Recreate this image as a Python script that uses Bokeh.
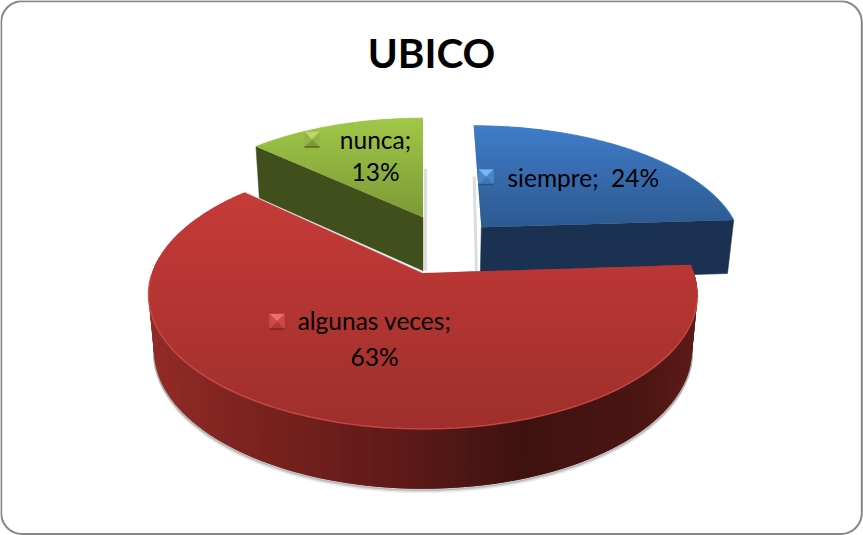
import numpy as np
from bokeh.plotting import figure
from bokeh.models import Range1d
from bokeh.core.properties import value
from bokeh.embed import file_html
from bokeh.resources import INLINE

# ---- data
title_text = "UBICO"
categories = ["siempre", "algunas veces", "nunca"]
percents = [24, 63, 13]

# ---- styles / geometry of the 3D projection
W, H = 863, 535
CX, CY, A, B, K = 422.5, 272.5, 271.0, 131.0, 0.16
explode = [(0.228, 0.37), (0.0, 0.0), (0.0, 0.457)]
top_stops = [("#3f7cc8", "#2d5990"), ("#c63b38", "#9e2f2c"), ("#9fc748", "#7b9936")]
cut_color = ["#1a3151", "#5a1b18", "#404f1c"]
key_colors = [("#78b6f2", "#4a88c8", "#3f78b4"), ("#f0706a", "#cf4a45", "#b03a36"), ("#bcd86a", "#93b346", "#7d9a38")]
key_edge = ["#2a527f", "#7f2422", "#566b24"]


def project(u, v):
    w = 1 + K * v
    return CX + A * u / w, CY - B * v / w


def lower(x, y):
    return CX + 0.98 * (x - CX), 1.03 * y + 47.0


def hex2rgb(c):
    return np.array([int(c[i:i + 2], 16) for i in (1, 3, 5)], float)


def mix(c0, c1, t):
    r = hex2rgb(c0) * (1 - t) + hex2rgb(c1) * t
    return "#%02x%02x%02x" % tuple(int(round(q)) for q in r)


def clip(poly, yc, keep_below):
    out = []
    n = len(poly)
    for i in range(n):
        p, q = poly[i], poly[(i + 1) % n]
        ip = (p[1] >= yc) if keep_below else (p[1] <= yc)
        iq = (q[1] >= yc) if keep_below else (q[1] <= yc)
        if ip:
            out.append(p)
        if ip != iq:
            t = (yc - p[1]) / (q[1] - p[1])
            out.append((p[0] + t * (q[0] - p[0]), yc))
    return out


def sector(i, a0, a1, n=120):
    th = np.radians(np.linspace(a0, a1, n))
    ox, oy = explode[i]
    return project(ox + np.sin(th), oy + np.cos(th)), project(ox, oy)


p = figure(width=W, height=H, x_range=Range1d(0, W), y_range=Range1d(H, 0),
           output_backend="svg", toolbar_location=None, min_border=0,
           x_axis_type=None, y_axis_type=None, outline_line_color=None,
           background_fill_color="white", border_fill_color="white")
p.grid.visible = False

# rounded frame
r = 21
ang = np.radians(np.linspace(0, 90, 14))
L, T, RR, BB = 0.7, 0.7, 861.3, 533.5
fx = np.concatenate([L + r - r * np.cos(ang), RR - r + r * np.sin(ang), RR - r + r * np.cos(ang), L + r - r * np.sin(ang), [L]])
fy = np.concatenate([T + r - r * np.sin(ang), T + r - r * np.cos(ang), BB - r + r * np.sin(ang), BB - r + r * np.cos(ang), [T + r]])
p.line(fx, fy, line_color="#868686", line_width=2)

# sector limits from values, clockwise from twelve o'clock
edges = np.concatenate([[0], np.cumsum(percents)]) * 3.6

order = [2, 0, 1]  # back slices first
for i in order:
    a0, a1 = edges[i], edges[i + 1]
    (ax, ay), (ox, oy) = sector(i, a0, a1)
    # soft shadows
    if i != 1:
        idx = 0 if i == 0 else -1
        sx, sy = lower(ax[idx], ay[idx])
        lx, ly = lower(ox, oy)
        d0, d1 = (2.5, 2.5) if i == 2 else (1.5, -3.5)
        p.line([sx + d0, lx + d1], [sy, ly], line_color="#777777", line_width=3, line_alpha=0.25)
    else:
        th = np.linspace(a0, a1, len(ax))
        m = (th > 95) & (th < 272)
        bx, by = lower(ax[m], ay[m])
        for off, al in [(1, 0.3), (2, 0.2), (3.5, 0.1)]:
            p.line(bx, by + off, line_color="#555555", line_width=2, line_alpha=al)

    # cut face seen by the viewer
    cut_idx = 0 if i == 2 else (-1 if i == 0 else None)
    if cut_idx is not None:
        cx_, cy_ = ax[cut_idx], ay[cut_idx]
        c2x, c2y = lower(cx_, cy_)
        a2x, a2y = lower(ox, oy)
        p.patch([ox, cx_, c2x, a2x], [oy, cy_, c2y, a2y], fill_color=cut_color[i], line_color=cut_color[i], line_width=0.5)

    # red rim, shaded along its length
    if i == 1:
        bx, by = lower(ax, ay)
        sxs, sys, scs = [], [], []
        stops_x = [150, 250, 400, 520, 640, 695]
        stops_c = ["#922b28", "#7c221f", "#5e1a18", "#3f1210", "#4a1512", "#5c1b18"]
        for j in range(0, len(ax) - 1):
            if not (ay[j] > 262 or ay[j + 1] > 262):
                continue
            e = min(j + 2, len(ax) - 1)
            xm = (ax[j] + ax[j + 1]) / 2
            k = int(np.clip(np.searchsorted(stops_x, xm) - 1, 0, 4))
            t = float(np.clip((xm - stops_x[k]) / (stops_x[k + 1] - stops_x[k]), 0, 1))
            sxs.append([ax[j], ax[e], bx[e], bx[j]])
            sys.append([ay[j], ay[e], by[e], by[j]])
            scs.append(mix(stops_c[k], stops_c[k + 1], t))
        p.patches(sxs, sys, fill_color=scs, line_color=None)

    # top face with a vertical gradient (bands end on whole pixels, so no seams)
    poly = list(zip(ax, ay)) + [(ox, oy)]
    ymin, ymax = min(q[1] for q in poly), max(q[1] for q in poly)
    ys = np.arange(np.floor(ymin), np.ceil(ymax) + 2, 2.0)
    bxs, bys, bcs = [], [], []
    for y0 in ys:
        band = clip(clip(poly, y0, True), y0 + 3.0, False)
        if len(band) < 3:
            continue
        t = float(np.clip((y0 - ymin) / (ymax - ymin), 0, 1))
        bxs.append([q[0] for q in band])
        bys.append([q[1] for q in band])
        bcs.append(mix(top_stops[i][0], top_stops[i][1], t))
    p.patches(bxs, bys, fill_color=bcs, line_color=None)

    # bevel highlight on the front edge of the top face
    if i == 1:
        th = np.linspace(a0, a1, len(ax))
        m = (th > 100) & (th < 270)
        p.line(ax[m], ay[m], line_color="#cf4d47", line_width=1.5, line_alpha=0.8)
        p.line([ax[-1], ox], [ay[-1], oy], line_color="#cfcfcf", line_width=1, line_alpha=0.9)
    else:
        p.line(ax, ay, line_color=top_stops[i][0], line_width=1)

# legend keys inside the labels
key_pos = [(485.5, 176.5), (276.5, 321), (311.5, 139)]
for (kx, ky), (c_top, c_mid, c_bot), c_edge in zip(key_pos, key_colors, key_edge):
    s = 7.5
    outer = [(kx - s, ky - s), (kx + s, ky - s), (kx + s, ky + s), (kx - s, ky + s)]
    tris = [[outer[0], outer[1], (kx, ky)], [outer[1], outer[2], (kx, ky)], [outer[2], outer[3], (kx, ky)], [outer[3], outer[0], (kx, ky)]]
    p.patches([[a[0] for a in tr] for tr in tris], [[a[1] for a in tr] for tr in tris],
              fill_color=[c_top, c_mid, c_bot, c_mid], line_color=[c_top, c_mid, c_bot, c_mid], line_width=0.4)
    p.line([kx - s, kx + s], [ky + s, ky + s], line_color=c_edge, line_width=1.5)

# title
p.text([431], [52], text=[title_text], text_font=value("Lato"), text_font_style="bold",
       text_font_size=value("40.5px"), text_align="center", text_baseline="middle", text_color="black")

# data labels
lab_x = [375, 375, 507, 374, 374]
lab_y = [139, 171, 177, 320, 356]
lab_t = [f"{categories[2]};", f"{percents[2]}%", f"{categories[0]}; \u00a0{percents[0]}%", f"{categories[1]};", f"{percents[1]}%"]
lab_a = ["center", "center", "left", "center", "center"]
p.text(lab_x, lab_y, text=lab_t, text_font=value("Lato"), text_font_size=value("24.5px"),
       text_align=lab_a, text_baseline="middle", text_color="black")

open("out.html", "w").write(file_html(p, INLINE))
